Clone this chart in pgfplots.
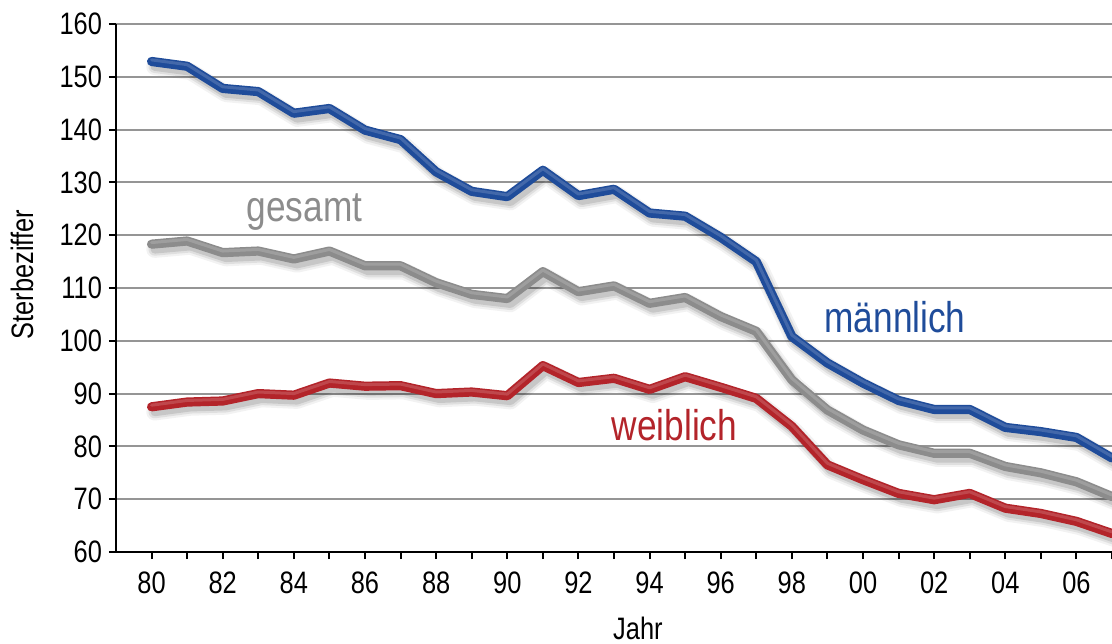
\documentclass[border=0pt]{standalone}
\usepackage{fontspec}
\setmainfont{Liberation Sans}[FakeStretch=0.82]
\usepackage{pgfplots}
\usepackage{pgfplotstable}
\pgfplotsset{compat=1.18}
\definecolor{mblue}{HTML}{1F4C9A}
\definecolor{ggray}{HTML}{8C8C8C}
\definecolor{wred}{HTML}{B3242A}
\definecolor{gridc}{HTML}{959595}

\pgfplotstableread{
x y
80 152.9
81 152.0
82 147.8
83 147.2
84 143.1
85 144.0
86 139.9
87 138.1
88 132.0
89 128.3
90 127.3
91 132.3
92 127.5
93 128.7
94 124.2
95 123.6
96 119.6
97 115.0
98 100.8
99 95.8
100 92.0
101 88.7
102 87.0
103 87.0
104 83.6
105 82.8
106 81.7
107 77.8
}\male
\pgfplotstableread{
x y
80 118.3
81 118.9
82 116.7
83 117.0
84 115.5
85 117.0
86 114.2
87 114.2
88 111.0
89 108.8
90 108.0
91 113.1
92 109.3
93 110.4
94 107.1
95 108.2
96 104.6
97 101.8
98 92.6
99 86.9
100 83.1
101 80.3
102 78.7
103 78.7
104 76.2
105 75.0
106 73.3
107 70.5
}\total
\pgfplotstableread{
x y
80 87.5
81 88.4
82 88.6
83 90.0
84 89.7
85 92.0
86 91.4
87 91.5
88 90.0
89 90.3
90 89.6
91 95.3
92 92.1
93 92.9
94 90.8
95 93.2
96 91.2
97 89.1
98 83.8
99 76.5
100 73.7
101 71.1
102 69.9
103 71.1
104 68.3
105 67.3
106 65.8
107 63.5
}\female

\pgfplotsset{
  shadowA/.style={black, opacity=0.05, line width=8.5pt, xshift=1.6pt, yshift=-2.6pt, line join=round, line cap=round},
  shadowB/.style={black, opacity=0.08, line width=6.3pt, xshift=1.6pt, yshift=-2.6pt, line join=round, line cap=round},
  shadowC/.style={black, opacity=0.11, line width=4.2pt, xshift=1.6pt, yshift=-2.6pt, line join=round, line cap=round},
  mainline/.style={#1, line width=4.6pt, line join=round, line cap=round},
  hilite/.style={white, opacity=0.16, line width=1.5pt, yshift=0.8pt, line join=round, line cap=round},
}

\begin{document}
\begin{tikzpicture}
\begin{axis}[
  scale only axis,
  width=498pt, height=264pt,
  xmin=79, xmax=107,
  ymin=60, ymax=160,
  axis lines=left,
  axis line style={-, black, line width=1pt},
  xtick={80,82,...,106},
  xticklabels={80,82,84,86,88,90,92,94,96,98,00,02,04,06},
  minor xtick={81,83,...,107},
  ytick={60,70,...,160},
  tick align=outside,
  major tick length=3.5pt,
  minor tick length=3.5pt,
  every tick/.style={black, line width=1pt},
  ymajorgrids,
  major grid style={gridc, line width=1pt},
  /pgf/number format/assume math mode=true,
  tick label style={font=\fontsize{15.5}{18}\selectfont},
  xticklabel style={yshift=-3pt},
  xlabel={Jahr},
  ylabel={Sterbeziffer},
  every axis x label/.style={at={(axis description cs:0.524,-0.144)}, anchor=center, font=\fontsize{15.5}{18}\selectfont},
  every axis y label/.style={at={(axis description cs:-0.0944,0.525)}, rotate=90, anchor=center, font=\fontsize{15.5}{18}\selectfont},
  clip=true,
]
% shadows
\addplot[shadowA] table {\total};
\addplot[shadowB] table {\total};
\addplot[shadowC] table {\total};
\addplot[shadowA] table {\female};
\addplot[shadowB] table {\female};
\addplot[shadowC] table {\female};
\addplot[shadowA] table {\male};
\addplot[shadowB] table {\male};
\addplot[shadowC] table {\male};
% lines
\addplot[mainline=ggray] table {\total};
\addplot[hilite] table {\total};
\addplot[mainline=wred] table {\female};
\addplot[hilite] table {\female};
\addplot[mainline=mblue] table {\male};
\addplot[hilite] table {\male};
% labels
\node[text=ggray, font=\fontsize{21.5}{24}\selectfont] at (axis cs:84.3,124.4) {gesamt};
\node[text=mblue, font=\fontsize{21.5}{24}\selectfont] at (axis cs:100.9,104.5) {männlich};
\node[text=wred, font=\fontsize{21.5}{24}\selectfont] at (axis cs:94.7,84.1) {weiblich};
\end{axis}
\pgfresetboundingbox
\useasboundingbox ([xshift=-58pt,yshift=-45.5pt]current axis.south west) rectangle ([yshift=12pt]current axis.north east);
\end{tikzpicture}
\end{document}
